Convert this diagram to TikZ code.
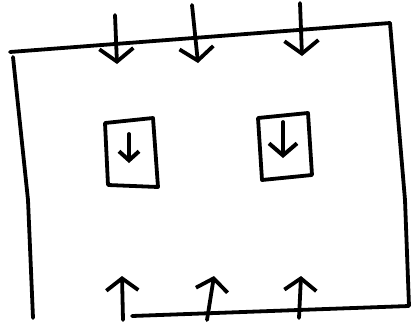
\documentclass[tikz,border=0pt]{standalone}
\usetikzlibrary{arrows.meta}
\begin{document}
\begin{tikzpicture}[x=1pt,y=-1pt,
  ink/.style={line width=3.8pt,line cap=round,line join=round,black},
  downarr/.style={ink,-{Straight Barb[length=13pt,width=34pt,line width=3.8pt]}},
  uparr/.style={ink,-{Straight Barb[length=12pt,width=32pt,line width=3.8pt]}},
  smallarr/.style={ink,-{Straight Barb[length=9pt,width=20pt,line width=4pt]}},
  bigsmallarr/.style={ink,-{Straight Barb[length=12pt,width=28pt,line width=4pt]}}]
\useasboundingbox (0,0) rectangle (415,325);
% outer frame
\coordinate (tl) at (10,52);
\coordinate (tr) at (390,23);
\coordinate (rm) at (405,200);
\coordinate (br) at (409,306);
\coordinate (bl) at (33,318);
\coordinate (bstart) at (132,316);
\draw[ink] (tl) -- (tr);
\draw[ink] (tr) -- (rm) -- (br) -- (bstart);
\draw[ink] (13,57) -- (28,200) -- (bl);
% top arrows
\coordinate (t1a) at (115,15); \coordinate (t1b) at (117,64);
\coordinate (t2a) at (192,5);  \coordinate (t2b) at (198,63);
\coordinate (t3a) at (300,3);  \coordinate (t3b) at (302,56);
\draw[downarr] (t1a) -- (t1b);
\draw[downarr] (t2a) -- (t2b);
\draw[downarr] (t3a) -- (t3b);
% bottom arrows
\coordinate (b1a) at (123,320); \coordinate (b1b) at (122,276);
\coordinate (b2a) at (207,320); \coordinate (b2b) at (214,276);
\coordinate (b3a) at (299,318); \coordinate (b3b) at (301,276);
\draw[uparr] (b1a) -- (b1b);
\draw[uparr] (b2a) -- (b2b);
\draw[uparr] (b3a) -- (b3b);
% small boxes
\draw[ink] (105,123) -- (153,118) -- (158,187) -- (108,185) -- cycle;
\draw[ink] (258,118) -- (308,113) -- (312,175) -- (262,180) -- cycle;
\coordinate (s1a) at (129,134); \coordinate (s1b) at (129,163);
\coordinate (s2a) at (283,122); \coordinate (s2b) at (283,158);
\draw[smallarr] (s1a) -- (s1b);
\draw[bigsmallarr] (s2a) -- (s2b);
\end{tikzpicture}
\end{document}
